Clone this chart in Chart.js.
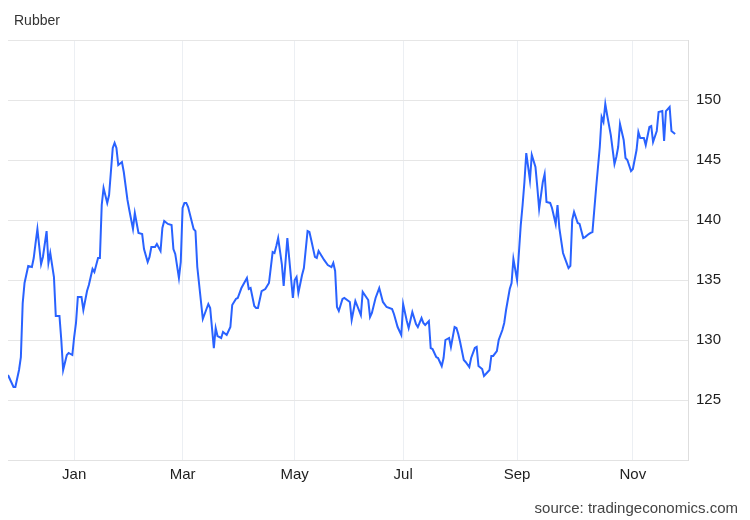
<!DOCTYPE html>
<html>
<head>
<meta charset="utf-8">
<script src="https://cdn.jsdelivr.net/npm/chart.js@4"></script>
<style>
  body { margin: 0; background: #fff; }
  #chart { display: block; }
</style>
</head>
<body>
<canvas id="chart" width="750" height="520"></canvas>
<script>
// days counted from 1 Jan 2023 (negative = Nov/Dec 2022)
const days = [
  -36, -33, -32, -30, -29, -28, -27, -25, -23, -22, -21, -20, -18, -17, -15, -14, -13, -11, -10, -8,
  -7, -6, -4, -3, -1, 0, 1, 2, 4, 5, 7, 8, 10, 11, 13, 14, 15, 16, 18, 19,
  21, 22, 23, 24, 26, 27, 29, 30, 32, 33, 34, 35, 37, 38, 40, 41, 42, 44, 45, 47,
  48, 49, 51, 53, 54, 55, 57, 58, 59, 60, 61, 62, 65, 66, 67, 70, 73, 74, 76, 77,
  78, 80, 81, 83, 85, 86, 88, 89, 91, 94, 95, 96, 98, 99, 100, 102, 104, 106, 108, 109,
  110, 111, 113, 114, 116, 117, 119, 120, 121, 122, 124, 125, 127, 128, 129, 131, 132, 133, 135, 136,
  138, 140, 141, 142, 143, 144, 146, 147, 150, 151, 153, 156, 157, 160, 161, 162, 164, 166, 168, 170,
  173, 174, 176, 178, 179, 181, 182, 184, 186, 187, 189, 190, 191, 193, 194, 195, 197, 198, 200, 201,
  202, 204, 205, 207, 208, 209, 210, 212, 213, 215, 216, 218, 219, 220, 222, 223, 225, 226, 227, 228,
  230, 231, 233, 234, 235, 237, 238, 239, 241, 243, 244, 245, 246, 248, 249, 251, 252, 253, 255, 256,
  257, 259, 260, 262, 263, 264, 266, 267, 269, 270, 271, 272, 274, 275, 277, 278, 280, 281, 282, 284,
  286, 287, 288, 289, 290, 292, 294, 295, 296, 297, 299, 300, 301, 303, 304, 306, 307, 308, 310, 311,
  313, 314, 315, 317, 318, 320, 321, 322, 324, 325, 327
];

const prices = [
  127.08, 126.08, 126.08, 127.5, 128.58, 133.08, 134.75, 136.17, 136.08, 136.83, 138.08, 139.25, 136.33, 136.92, 139.08, 136.42, 137.25, 135.25, 132.0, 132.0,
  130.0, 127.5, 128.75, 128.92, 128.75, 130.25, 131.42, 133.58, 133.58, 132.5, 134.08, 134.58, 135.92, 135.67, 136.83, 136.83, 141.25, 142.67, 141.42, 142.08,
  146.0, 146.42, 146.0, 144.58, 144.83, 144.0, 141.67, 140.83, 139.25, 140.58, 139.75, 138.92, 138.83, 137.58, 136.5, 136.92, 137.75, 137.75, 138.0, 137.42,
  139.33, 139.92, 139.67, 139.58, 137.58, 137.17, 135.17, 136.5, 141.0, 141.42, 141.42, 141.08, 139.25, 139.08, 136.08, 131.75, 133.0, 132.67, 129.33, 131.0,
  130.33, 130.17, 130.67, 130.42, 131.08, 132.92, 133.42, 133.5, 134.33, 135.17, 134.25, 134.33, 132.83, 132.67, 132.67, 134.08, 134.25, 134.75, 137.33, 137.25,
  137.83, 138.5, 136.33, 134.5, 138.5, 136.83, 133.5, 135.0, 135.25, 133.92, 135.42, 136.0, 139.08, 139.0, 138.33, 136.92, 136.83, 137.42, 136.92, 136.67,
  136.25, 136.08, 136.42, 135.75, 132.75, 132.42, 133.42, 133.5, 133.17, 131.67, 133.25, 132.08, 134.0, 133.33, 131.92, 132.25, 133.5, 134.33, 133.17, 132.75,
  132.58, 132.17, 131.08, 130.42, 133.0, 131.58, 131.0, 132.33, 131.33, 131.08, 131.83, 131.42, 131.25, 131.58, 129.33, 129.25, 128.58, 128.5, 127.83, 128.5,
  130.0, 130.17, 129.42, 131.08, 131.0, 130.5, 129.83, 128.33, 128.17, 127.75, 128.5, 129.33, 129.42, 127.83, 127.58, 127.0, 127.33, 127.5, 128.67, 128.67,
  129.08, 130.0, 130.83, 131.42, 132.5, 134.25, 134.75, 136.75, 135.0, 139.58, 141.25, 143.17, 145.58, 143.33, 145.42, 144.42, 142.75, 140.92, 143.17, 143.83,
  141.5, 141.42, 141.0, 139.67, 141.25, 139.33, 137.25, 136.83, 136.0, 136.17, 140.0, 140.67, 139.75, 139.67, 138.5, 138.58, 138.83, 138.92, 139.0, 142.67,
  146.08, 148.58, 148.17, 149.67, 148.75, 147.08, 144.67, 145.25, 146.08, 148.0, 146.67, 145.17, 145.0, 144.08, 144.25, 145.83, 147.33, 146.83, 146.83, 146.25,
  147.75, 147.83, 146.5, 147.42, 149.0, 149.08, 146.58, 149.08, 149.42, 147.42, 147.17
];

// the source axis is laid out by trading day, so month marks sit a little off the calendar
const monthTicks = [0, 59, 120, 179, 241, 304];
const monthLabels = ['Jan', 'Mar', 'May', 'Jul', 'Sep', 'Nov'];
const yTicks = [125, 130, 135, 140, 145, 150];

const FONT = '"Liberation Sans", Arial, sans-serif';

const textPlugin = {
  id: 'texts',
  afterDraw(chart) {
    const ctx = chart.ctx;
    ctx.save();
    ctx.textBaseline = 'alphabetic';
    ctx.font = '14px ' + FONT;
    ctx.fillStyle = '#333';
    ctx.textAlign = 'left';
    ctx.fillText('Rubber', 14, 25);
    ctx.font = '15px ' + FONT;
    ctx.fillStyle = '#444';
    ctx.textAlign = 'right';
    ctx.fillText('source: tradingeconomics.com', 738, 513);
    ctx.restore();
  }
};

new Chart(document.getElementById('chart'), {
  type: 'line',
  data: {
    datasets: [{
      label: 'Rubber',
      data: days.map((d, i) => ({ x: d, y: prices[i] })),
      borderColor: '#2962ff',
      borderWidth: 2,
      pointRadius: 0,
      tension: 0,
      fill: false
    }]
  },
  options: {
    responsive: false,
    animation: false,
    layout: { padding: { left: 8, top: 40, right: 0, bottom: 0 } },
    plugins: {
      legend: { display: false },
      tooltip: { enabled: false }
    },
    scales: {
      x: {
        type: 'linear',
        min: -36,
        max: 334,
        afterBuildTicks: (scale) => {
          scale.ticks = monthTicks.map(v => ({ value: v }));
        },
        afterFit: (scale) => { scale.height = 60; },
        ticks: {
          autoSkip: false,
          maxRotation: 0,
          padding: 6,
          color: '#1e1e1e',
          font: { family: FONT, size: 15 },
          callback: (v) => monthLabels[monthTicks.indexOf(v)]
        },
        grid: { color: '#eceff3', drawTicks: false },
        border: { color: '#e2e2e2' }
      },
      y: {
        position: 'right',
        min: 120,
        max: 155,
        afterBuildTicks: (scale) => {
          scale.ticks = [120].concat(yTicks, [155]).map(v => ({ value: v }));
        },
        afterFit: (scale) => { scale.width = 62; },
        ticks: {
          padding: 8,
          color: '#1e1e1e',
          font: { family: FONT, size: 15 },
          callback: (v) => yTicks.includes(v) ? String(v) : ''
        },
        grid: { color: '#e6e6e6', drawTicks: false },
        border: { display: true, color: '#dedede' }
      }
    }
  },
  plugins: [textPlugin]
});
</script>
</body>
</html>
